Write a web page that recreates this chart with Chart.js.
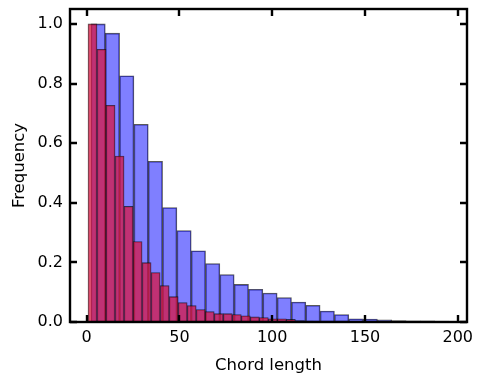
<!DOCTYPE html>
<html>
<head>
<meta charset="utf-8">
<script src="https://cdn.jsdelivr.net/npm/chart.js@4/dist/chart.umd.min.js"></script>
<style>
html,body{margin:0;padding:0;background:#fff;}
#wrap{width:483px;height:383px;position:relative;}
</style>
</head>
<body>
<div id="wrap"><canvas id="c" width="483" height="383"></canvas></div>
<script>
// Blue histogram: bin start, bin width, normalised frequencies
const blueStart = 2.3;
const blueWidth = 7.72;
const blueValues = [1.0, 0.969, 0.826, 0.663, 0.539, 0.384, 0.307, 0.239, 0.196, 0.159,
  0.126, 0.110, 0.097, 0.082, 0.067, 0.056, 0.037, 0.025, 0.011, 0.010,
  0.007, 0.005, 0.004, 0.004, 0.003];

// Red histogram
const redStart = 0.7;
const redWidth = 4.86;
const redValues = [1.0, 0.915, 0.727, 0.557, 0.388, 0.270, 0.199, 0.166, 0.122, 0.085,
  0.065, 0.055, 0.042, 0.035, 0.028, 0.028, 0.025, 0.021, 0.017, 0.015,
  0.011, 0.011, 0.009, 0.005, 0.003, 0.002, 0.001, 0.001];

const xTicks = [0, 50, 100, 150, 200];
const yTicks = [0.0, 0.2, 0.4, 0.6, 0.8, 1.0];
const xLabel = 'Chord length';
const yLabel = 'Frequency';

const binPoints = (start, width, vals) => vals.map((v, i) => ({x: start + width * (i + 0.5), y: v}));

const FONT = "'DejaVu Sans', sans-serif";

const frameTicks = {
  id: 'frameTicks',
  afterDatasetsDraw(chart) {
    const {ctx, chartArea: a, scales} = chart;
    ctx.save();
    ctx.strokeStyle = '#000';
    ctx.lineWidth = 2.4;
    const len = 7;
    ctx.beginPath();
    xTicks.forEach(v => {
      const p = Math.round(scales.x.getPixelForValue(v));
      ctx.moveTo(p, a.bottom); ctx.lineTo(p, a.bottom - len);
      ctx.moveTo(p, a.top); ctx.lineTo(p, a.top + len);
    });
    yTicks.forEach(v => {
      const p = Math.round(scales.y.getPixelForValue(v));
      ctx.moveTo(a.left, p); ctx.lineTo(a.left + len, p);
      ctx.moveTo(a.right, p); ctx.lineTo(a.right - len, p);
    });
    ctx.stroke();
    ctx.lineWidth = 2.4;
    ctx.strokeRect(a.left, a.top, a.right - a.left, a.bottom - a.top);
    ctx.restore();
  }
};

new Chart(document.getElementById('c'), {
  type: 'bar',
  data: {
    datasets: [
      {
        label: 'red',
        data: binPoints(redStart, redWidth, redValues),
        xAxisID: 'x2',
        backgroundColor: 'rgba(218,20,62,0.72)',
        borderColor: 'rgba(0,0,0,0.65)',
        borderWidth: 0.9,
        borderSkipped: false,
        barPercentage: 1,
        categoryPercentage: 1,
        grouped: false
      },
      {
        label: 'blue',
        data: binPoints(blueStart, blueWidth, blueValues),
        xAxisID: 'x',
        backgroundColor: 'rgba(0,0,255,0.5)',
        borderColor: 'rgba(0,0,0,0.65)',
        borderWidth: 0.9,
        borderSkipped: false,
        barPercentage: 1,
        categoryPercentage: 1,
        grouped: false
      }
    ]
  },
  options: {
    responsive: false,
    animation: false,
    layout: {padding: {top: 9, right: 16, left: 0, bottom: 0}},
    plugins: {legend: {display: false}, tooltip: {enabled: false}},
    scales: {
      x: {
        type: 'linear',
        offset: false,
        min: -9.0, max: 205.0,
        afterBuildTicks: s => { s.ticks = xTicks.map(v => ({value: v})); },
        afterFit: s => { s.height = 61; s.paddingLeft = 0; s.paddingRight = 0; },
        grid: {display: false, drawTicks: false, offset: false},
        border: {display: false},
        ticks: {color: '#000', font: {family: FONT, size: 16}, padding: 6, maxRotation: 0,
          callback: v => String(v)},
        title: {display: true, text: xLabel, color: '#000', font: {family: FONT, size: 16.5}, padding: {top: 4, bottom: 7}}
      },
      x2: {
        type: 'linear',
        display: false,
        offset: false,
        min: -9.0, max: 205.0,
        grid: {offset: false},
        afterBuildTicks: s => { s.ticks = xTicks.map(v => ({value: v})); }
      },
      y: {
        type: 'linear',
        min: 0, max: 1.05,
        afterBuildTicks: s => { s.ticks = yTicks.map(v => ({value: v})); },
        afterFit: s => { s.width = 70; s.paddingTop = 0; s.paddingBottom = 0; },
        grid: {display: false, drawTicks: false},
        border: {display: false},
        ticks: {color: '#000', font: {family: FONT, size: 16}, padding: 7,
          callback: v => Number(v).toFixed(1)},
        title: {display: true, text: yLabel, color: '#000', font: {family: FONT, size: 16.5}, padding: {top: 10, bottom: 4}}
      }
    }
  },
  plugins: [frameTicks]
});
</script>
</body>
</html>
